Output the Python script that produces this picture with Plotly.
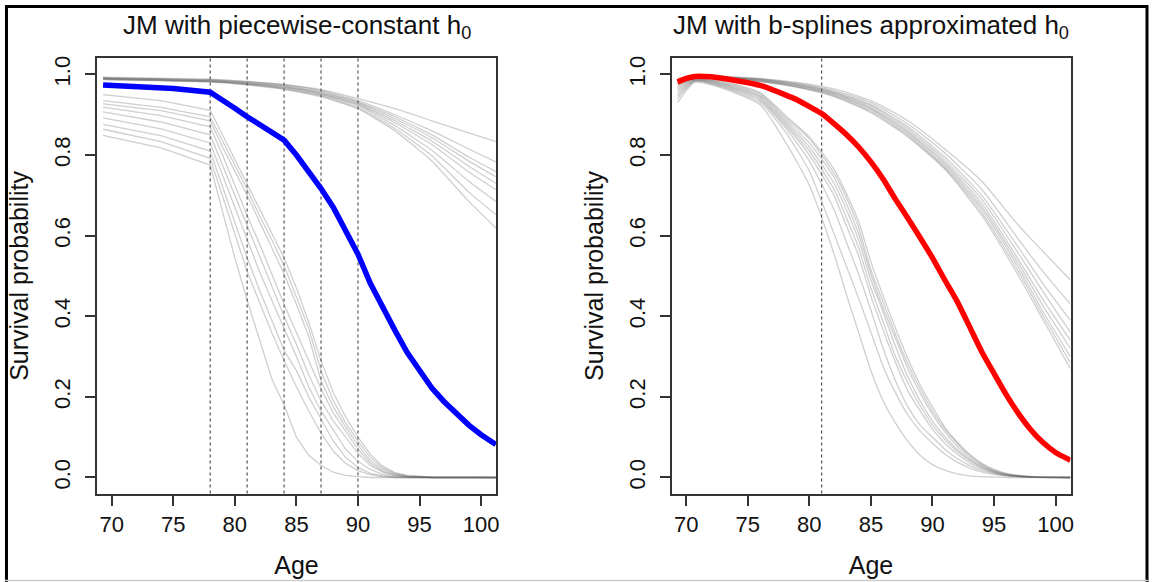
import plotly.graph_objects as go

# ---------------- data ----------------
# Left panel: piecewise-constant baseline hazard
knots_left = [78, 81, 84, 87, 90]
age_blue = [69.3, 72, 75, 78, 79, 80, 81, 82, 83, 84, 85, 86, 87, 88, 89, 90, 91, 92, 93, 94, 95, 96, 97, 98, 99, 100, 101.2]
surv_blue = [0.974, 0.970, 0.965, 0.956, 0.937, 0.916, 0.895, 0.876, 0.857, 0.837, 0.800, 0.760, 0.717, 0.670, 0.615,
             0.554, 0.482, 0.420, 0.365, 0.310, 0.263, 0.222, 0.188, 0.158, 0.130, 0.106, 0.082]

age_left_upper = [69.3, 78, 81, 84, 87, 90, 93, 96, 99, 101.2]
left_upper = [
    [0.993, 0.988, 0.983, 0.975, 0.962, 0.940, 0.915, 0.885, 0.855, 0.833],
    [0.992, 0.987, 0.982, 0.974, 0.960, 0.935, 0.900, 0.860, 0.815, 0.783],
    [0.991, 0.986, 0.980, 0.972, 0.957, 0.932, 0.895, 0.850, 0.795, 0.759],
    [0.990, 0.985, 0.979, 0.970, 0.955, 0.930, 0.890, 0.843, 0.785, 0.746],
    [0.990, 0.984, 0.978, 0.969, 0.953, 0.927, 0.885, 0.835, 0.772, 0.730],
    [0.989, 0.983, 0.977, 0.967, 0.951, 0.925, 0.880, 0.826, 0.758, 0.714],
    [0.988, 0.983, 0.976, 0.966, 0.949, 0.922, 0.873, 0.812, 0.735, 0.685],
    [0.988, 0.982, 0.975, 0.964, 0.947, 0.918, 0.866, 0.798, 0.708, 0.652],
    [0.987, 0.981, 0.974, 0.963, 0.945, 0.915, 0.860, 0.785, 0.685, 0.619],
]

age_left_lower = [69.3, 74, 78, 79, 80, 81, 82, 83, 84, 85, 86, 87, 88, 89, 90, 91, 92, 93, 94, 96, 101.2]
left_lower = [
    [0.950, 0.935, 0.911, 0.850, 0.790, 0.730, 0.670, 0.610, 0.545, 0.470, 0.385, 0.290, 0.210, 0.150, 0.100, 0.058, 0.028, 0.012, 0.005, 0.001, 0.0],
    [0.935, 0.918, 0.895, 0.835, 0.775, 0.715, 0.650, 0.590, 0.525, 0.445, 0.370, 0.265, 0.190, 0.135, 0.090, 0.050, 0.024, 0.010, 0.004, 0.001, 0.0],
    [0.927, 0.910, 0.885, 0.820, 0.760, 0.700, 0.635, 0.570, 0.505, 0.430, 0.350, 0.240, 0.175, 0.125, 0.080, 0.042, 0.020, 0.008, 0.003, 0.0, 0.0],
    [0.919, 0.898, 0.870, 0.800, 0.725, 0.650, 0.580, 0.505, 0.430, 0.360, 0.290, 0.220, 0.160, 0.115, 0.070, 0.036, 0.016, 0.006, 0.002, 0.0, 0.0],
    [0.907, 0.882, 0.850, 0.775, 0.700, 0.625, 0.550, 0.475, 0.400, 0.330, 0.255, 0.190, 0.140, 0.100, 0.060, 0.030, 0.013, 0.005, 0.002, 0.0, 0.0],
    [0.892, 0.865, 0.830, 0.750, 0.670, 0.590, 0.511, 0.440, 0.370, 0.300, 0.225, 0.165, 0.118, 0.070, 0.040, 0.020, 0.008, 0.003, 0.001, 0.0, 0.0],
    [0.876, 0.848, 0.810, 0.720, 0.635, 0.545, 0.465, 0.390, 0.315, 0.265, 0.200, 0.145, 0.090, 0.050, 0.025, 0.010, 0.004, 0.001, 0.0, 0.0, 0.0],
    [0.864, 0.833, 0.792, 0.700, 0.605, 0.511, 0.435, 0.360, 0.290, 0.225, 0.165, 0.110, 0.065, 0.035, 0.017, 0.007, 0.002, 0.0, 0.0, 0.0, 0.0],
    [0.849, 0.818, 0.775, 0.660, 0.545, 0.440, 0.340, 0.245, 0.180, 0.100, 0.055, 0.030, 0.013, 0.005, 0.002, 0.0, 0.0, 0.0, 0.0, 0.0, 0.0],
]

# Right panel: b-spline approximated baseline hazard
knots_right = [81]
age_red = [69.3, 70.0, 70.7, 72, 74, 76, 78, 79, 80, 81, 82, 83, 84, 85, 86, 87, 88, 89, 90, 91, 92, 93, 94, 95, 96, 97, 98, 99, 100, 101.2]
surv_red = [0.981, 0.990, 0.995, 0.994, 0.985, 0.973, 0.950, 0.937, 0.920, 0.903, 0.878, 0.851, 0.820, 0.783, 0.740,
            0.690, 0.643, 0.595, 0.545, 0.490, 0.437, 0.375, 0.312, 0.258, 0.205, 0.158, 0.118, 0.086, 0.062, 0.043]

age_right_upper = [69.3, 70.7, 73, 76, 79, 82, 85, 88, 91, 94, 97, 99, 101.2]
right_upper = [
    [0.990, 0.996, 0.995, 0.990, 0.980, 0.964, 0.935, 0.885, 0.815, 0.735, 0.625, 0.560, 0.490],
    [0.988, 0.995, 0.994, 0.989, 0.978, 0.960, 0.930, 0.877, 0.805, 0.715, 0.590, 0.510, 0.430],
    [0.986, 0.994, 0.993, 0.988, 0.976, 0.957, 0.925, 0.870, 0.795, 0.700, 0.570, 0.480, 0.390],
    [0.985, 0.994, 0.993, 0.987, 0.975, 0.955, 0.922, 0.865, 0.788, 0.690, 0.555, 0.460, 0.360],
    [0.983, 0.993, 0.992, 0.986, 0.973, 0.953, 0.918, 0.860, 0.782, 0.680, 0.540, 0.440, 0.340],
    [0.981, 0.992, 0.991, 0.985, 0.972, 0.951, 0.915, 0.856, 0.777, 0.672, 0.530, 0.425, 0.320],
    [0.979, 0.991, 0.990, 0.984, 0.970, 0.949, 0.912, 0.852, 0.772, 0.665, 0.520, 0.410, 0.300],
    [0.977, 0.990, 0.990, 0.983, 0.969, 0.947, 0.908, 0.848, 0.768, 0.657, 0.510, 0.400, 0.285],
    [0.975, 0.990, 0.989, 0.982, 0.968, 0.945, 0.905, 0.845, 0.765, 0.650, 0.500, 0.390, 0.270],
]

age_right_lower = [69.3, 70.7, 73, 76, 78, 80, 82, 83, 84, 85, 86, 87, 88, 89, 90, 91, 92, 93, 94, 95, 96, 98, 101.2]
right_lower = [
    [0.975, 0.990, 0.982, 0.955, 0.900, 0.845, 0.765, 0.705, 0.635, 0.535, 0.450, 0.370, 0.295, 0.230, 0.175, 0.125, 0.088, 0.058, 0.035, 0.020, 0.010, 0.002, 0.0],
    [0.972, 0.989, 0.980, 0.952, 0.895, 0.840, 0.755, 0.695, 0.620, 0.515, 0.435, 0.355, 0.282, 0.220, 0.165, 0.120, 0.085, 0.055, 0.033, 0.018, 0.009, 0.002, 0.0],
    [0.968, 0.988, 0.978, 0.948, 0.890, 0.830, 0.745, 0.680, 0.605, 0.505, 0.420, 0.345, 0.270, 0.210, 0.157, 0.113, 0.078, 0.050, 0.030, 0.016, 0.008, 0.002, 0.0],
    [0.963, 0.987, 0.976, 0.945, 0.885, 0.820, 0.730, 0.665, 0.590, 0.490, 0.410, 0.325, 0.250, 0.190, 0.140, 0.102, 0.070, 0.045, 0.027, 0.015, 0.007, 0.001, 0.0],
    [0.958, 0.986, 0.974, 0.942, 0.880, 0.810, 0.715, 0.645, 0.570, 0.470, 0.385, 0.300, 0.235, 0.178, 0.130, 0.095, 0.065, 0.042, 0.025, 0.013, 0.006, 0.001, 0.0],
    [0.952, 0.985, 0.972, 0.938, 0.875, 0.800, 0.700, 0.625, 0.550, 0.450, 0.365, 0.285, 0.215, 0.165, 0.120, 0.085, 0.058, 0.037, 0.022, 0.012, 0.005, 0.001, 0.0],
    [0.946, 0.984, 0.970, 0.935, 0.870, 0.785, 0.665, 0.585, 0.505, 0.415, 0.320, 0.240, 0.175, 0.130, 0.100, 0.070, 0.047, 0.030, 0.018, 0.010, 0.005, 0.001, 0.0],
    [0.940, 0.983, 0.968, 0.930, 0.860, 0.760, 0.605, 0.525, 0.445, 0.360, 0.275, 0.210, 0.155, 0.115, 0.085, 0.058, 0.038, 0.024, 0.014, 0.008, 0.004, 0.001, 0.0],
    [0.930, 0.980, 0.965, 0.925, 0.835, 0.725, 0.555, 0.455, 0.360, 0.265, 0.190, 0.135, 0.090, 0.055, 0.032, 0.018, 0.009, 0.004, 0.002, 0.001, 0.0, 0.0, 0.0],
]

x_ticks = [70, 75, 80, 85, 90, 95, 100]
y_ticks = [0.0, 0.2, 0.4, 0.6, 0.8, 1.0]
y_tick_text = ["0.0", "0.2", "0.4", "0.6", "0.8", "1.0"]
titles = ["JM with piecewise-constant h<sub>0</sub>", "JM with b-splines approximated h<sub>0</sub>"]

# ---------------- figure ----------------
W, H = 1154, 582
FONT = "Liberation Sans, Arial, Helvetica, sans-serif"
GRAY = "rgba(95,95,95,0.30)"

fig = go.Figure()

def add_gray(ages, rows, xa, ya, shape, smoothing=0.6):
    for r in rows:
        fig.add_trace(go.Scatter(x=ages, y=r, mode="lines", xaxis=xa, yaxis=ya,
                                 line=dict(color=GRAY, width=1.3, shape=shape, smoothing=smoothing),
                                 hoverinfo="skip", showlegend=False))

add_gray(age_left_upper, left_upper, "x", "y", "spline", 0.4)
add_gray(age_left_lower, left_lower, "x", "y", "linear")
fig.add_trace(go.Scatter(x=age_blue, y=surv_blue, mode="lines", xaxis="x", yaxis="y",
                         line=dict(color="#0000FF", width=5.5), showlegend=False))

add_gray(age_right_upper, right_upper, "x2", "y2", "spline")
add_gray(age_right_lower, right_lower, "x2", "y2", "spline")
fig.add_trace(go.Scatter(x=age_red, y=surv_red, mode="lines", xaxis="x2", yaxis="y2",
                         line=dict(color="#FF0000", width=5.5, shape="spline", smoothing=0.6),
                         showlegend=False))

shapes = []
for k in knots_left:
    shapes.append(dict(type="line", xref="x", yref="y domain", x0=k, x1=k, y0=0, y1=1,
                       line=dict(color="#555555", width=1.2, dash="dot"), layer="below"))
for k in knots_right:
    shapes.append(dict(type="line", xref="x2", yref="y2 domain", x0=k, x1=k, y0=0, y1=1,
                       line=dict(color="#555555", width=1.2, dash="dot"), layer="below"))
# outer frame
shapes.append(dict(type="line", xref="paper", yref="paper", x0=6.5 / W, x1=6.5 / W, y0=0, y1=1 - 3 / H,
                   line=dict(color="black", width=3)))
shapes.append(dict(type="line", xref="paper", yref="paper", x0=5 / W, x1=1151 / W, y0=1 - 4.5 / H, y1=1 - 4.5 / H,
                   line=dict(color="black", width=3)))
shapes.append(dict(type="line", xref="paper", yref="paper", x0=1150 / W, x1=1150 / W, y0=0, y1=1 - 3 / H,
                   line=dict(color="black", width=3)))
shapes.append(dict(type="line", xref="paper", yref="paper", x0=5 / W, x1=1151 / W, y0=1.5 / H, y1=1.5 / H,
                   line=dict(color="#cccccc", width=1.5)))

ydom = [1 - 493.3 / H, 1 - 56.5 / H]
xdom1 = [97.3 / W, 497.3 / W]
xdom2 = [673.3 / W, 1073.3 / W]

def xaxis(dom, anchor):
    return dict(domain=dom, anchor=anchor, range=[68.81, 101.21], tickvals=x_ticks,
                ticks="outside", ticklen=10, tickwidth=1.5, tickcolor="#333333",
                showline=True, mirror=True, linecolor="#333333", linewidth=2,
                showgrid=False, zeroline=False, tickfont=dict(size=22, color="#111111"),
                title=dict(text="Age", font=dict(size=25, color="#111111"), standoff=20))

def yaxis(anchor):
    return dict(domain=ydom, anchor=anchor, range=[-0.04, 1.04], tickvals=y_ticks, ticktext=y_tick_text,
                tickangle=-90, ticks="outside", ticklen=10, tickwidth=1.5, tickcolor="#333333",
                ticklabelstandoff=6,
                showline=True, mirror=True, linecolor="#333333", linewidth=2,
                showgrid=False, zeroline=False, tickfont=dict(size=22, color="#111111"),
                title=dict(text="Survival probability", font=dict(size=25, color="#111111"), standoff=14))

annotations = [
    dict(text=titles[0], x=(xdom1[0] + xdom1[1]) / 2, y=1 - 25 / H, xref="paper", yref="paper",
         showarrow=False, xanchor="center", yanchor="middle", font=dict(size=26, color="#111111")),
    dict(text=titles[1], x=(xdom2[0] + xdom2[1]) / 2, y=1 - 25 / H, xref="paper", yref="paper",
         showarrow=False, xanchor="center", yanchor="middle", font=dict(size=26, color="#111111")),
]

fig.update_layout(
    width=W, height=H, margin=dict(l=0, r=0, t=0, b=0),
    paper_bgcolor="white", plot_bgcolor="white",
    font=dict(family=FONT, color="#111111"),
    xaxis=xaxis(xdom1, "y"), yaxis=yaxis("x"),
    xaxis2=xaxis(xdom2, "y2"), yaxis2=yaxis("x2"),
    shapes=shapes, annotations=annotations, showlegend=False,
)

fig.write_html("out.html", config={"displayModeBar": False},
               post_script="document.body.style.margin='0px';document.body.style.overflow='hidden';")
